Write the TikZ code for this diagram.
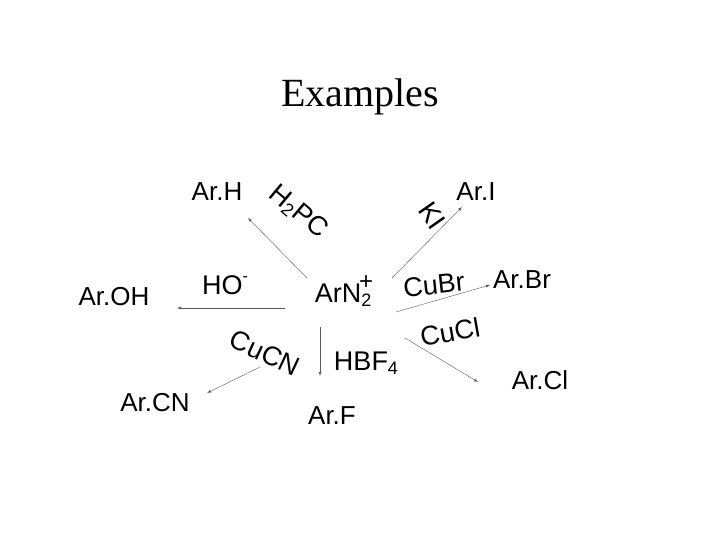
\documentclass[tikz,border=0pt]{standalone}
\usepackage{fontspec}
\setmainfont{Liberation Sans}
\newfontfamily\titlefont{Liberation Serif}
\newcommand{\sbs}[1]{\raisebox{-0.3ex}{\fontsize{18}{18}\selectfont #1}}
\newcommand{\sps}[1]{\raisebox{0.9ex}{\fontsize{24}{24}\selectfont #1}}
\begin{document}
\begin{tikzpicture}[x=1pt,y=-1pt,
  lbl/.style={font=\fontsize{26}{28}\selectfont, inner sep=0pt},
  rea/.style={font=\fontsize{27}{29}\selectfont, inner sep=0pt},
  arr/.style={-latex, gray!70!black, line width=0.4pt}]
\useasboundingbox (0,0) rectangle (720,540);
\node[font=\titlefont\fontsize{40}{42}\selectfont] (title) at (360,97) {Examples};
\node[lbl, font=\fontsize{27}{29}\selectfont] (c) at (344,291) {ArN\sbs{2}\hspace{-0.45em}\sps{+}};
\node[lbl] (arh) at (217,192) {Ar.H};
\node[lbl] (ari) at (476,192) {Ar.I};
\node[lbl] (arbr) at (522,280) {Ar.Br};
\node[lbl] (aroh) at (114,297) {Ar.OH};
\node[lbl] (arcn) at (155,403) {Ar.CN};
\node[lbl] (arf) at (332,416) {Ar.F};
\node[lbl] (arcl) at (540,380) {Ar.Cl};
\coordinate (s1) at (307,278); \coordinate (e1) at (248,218);
\coordinate (s2) at (392,278); \coordinate (e2) at (462,207);
\coordinate (s3) at (396,312); \coordinate (e3) at (490,285);
\coordinate (s4) at (285,308); \coordinate (e4) at (177,308);
\coordinate (s5) at (260,367); \coordinate (e5) at (207,393);
\coordinate (s6) at (320,327); \coordinate (e6) at (320,376);
\coordinate (s7) at (405,338); \coordinate (e7) at (478,382);
\foreach \i in {1,...,7} \draw[arr] (s\i) -- (e\i);
\node[rea] (ho) at (225,285) {HO\sps{\fontsize{16}{16}\selectfont -}};
\node[rea] (hbf) at (366,363) {HBF\sbs{4}};
\node[rea, rotate=6] (cubr) at (434,285) {CuBr};
\node[rea, rotate=10] (cucl) at (450,332) {CuCl};
\node[rea, rotate=-25] (cucn) at (265,353) {CuCN};
\node[rea, rotate=-40] (hpc) at (298,212) {H\sbs{2}PC};
\node[rea, rotate=-55] (ki) at (432,216) {KI};
\end{tikzpicture}
\end{document}
